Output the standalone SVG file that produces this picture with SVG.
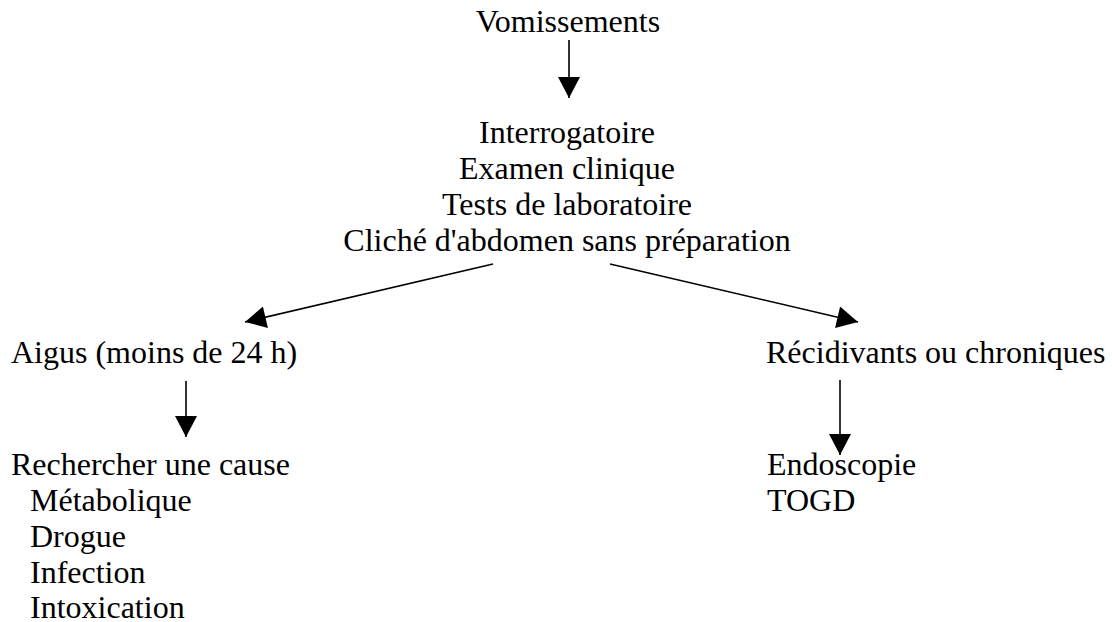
<svg xmlns="http://www.w3.org/2000/svg" width="1112" height="622" viewBox="0 0 1112 622">
<style>
text{font-family:"Liberation Serif","Times New Roman",serif;font-size:32px;fill:#000}
.c{text-anchor:middle}
.e{stroke:#000;stroke-width:1.6;fill:none;marker-end:url(#ah)}
</style>
<defs>
<marker id="ah" markerUnits="userSpaceOnUse" markerWidth="22" markerHeight="22" viewBox="0 0 20 21" refX="20" refY="10.5" orient="auto">
<path d="M0,0 L20,10.5 L0,21 z" fill="#000"/>
</marker>
</defs>
<rect width="1112" height="622" fill="#fff"/>
<g id="connectors">
<line class="e" x1="569" y1="40" x2="569" y2="98"/>
<line class="e" x1="493" y1="264" x2="245" y2="322"/>
<line class="e" x1="610" y1="264" x2="858" y2="322"/>
<line class="e" x1="186" y1="381" x2="186" y2="437"/>
<line class="e" x1="840" y1="380" x2="840" y2="455"/>
</g>
<g id="vomissements"><text class="c" x="568" y="32">Vomissements</text></g>
<g id="bilan">
<text class="c" x="567" y="143">Interrogatoire</text>
<text class="c" x="567" y="179">Examen clinique</text>
<text class="c" x="567" y="215">Tests de laboratoire</text>
<text class="c" x="567" y="251">Cliché d'abdomen sans préparation</text>
</g>
<g id="aigus"><text x="11" y="363">Aigus (moins de 24 h)</text></g>
<g id="chroniques"><text x="766" y="363">Récidivants ou chroniques</text></g>
<g id="cause">
<text x="11" y="475">Rechercher une cause</text>
<text x="30" y="511">Métabolique</text>
<text x="30" y="547">Drogue</text>
<text x="30" y="583">Infection</text>
<text x="30" y="618">Intoxication</text>
</g>
<g id="examens">
<text x="767" y="475">Endoscopie</text>
<text x="767" y="511">TOGD</text>
</g>
</svg>
